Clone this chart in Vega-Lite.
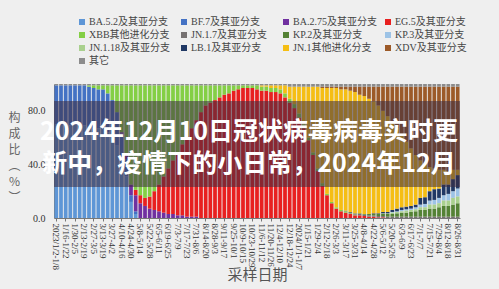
{
 "$schema": "https://vega.github.io/schema/vega-lite/v6.json",
 "width": 406, "height": 134,
 "autosize": {"type": "none"},
 "padding": {"left": 54, "top": 84, "right": 39, "bottom": 71},
 "background": "#efefef",
 "config": {"view": {"stroke": null}, "axis": {"labelOverlap": false}},
 "datasets": {
  "vars": [
   {"k":"a","name":"BA.5.2及其亚分支","o":1},
   {"k":"b","name":"BF.7及其亚分支","o":2},
   {"k":"c","name":"BA.2.75及其亚分支","o":3},
   {"k":"d","name":"EG.5及其亚分支","o":4},
   {"k":"e","name":"XBB其他进化分支","o":5},
   {"k":"f","name":"JN.1.7及其亚分支","o":6},
   {"k":"g","name":"KP.2及其亚分支","o":7},
   {"k":"h","name":"KP.3及其亚分支","o":9},
   {"k":"j","name":"JN.1.18及其亚分支","o":8},
   {"k":"k","name":"LB.1及其亚分支","o":10},
   {"k":"l","name":"JN.1其他进化分支","o":11},
   {"k":"m","name":"XDV及其亚分支","o":12},
   {"k":"n","name":"其它","o":13}
  ]
 },
 "data": {"values": [
  {"w":"2023/1/2-1/8","a":70,"b":29,"n":1},
  {"w":"1/9-1/15","a":71,"b":28,"n":1},
  {"w":"1/16-1/22","a":70,"b":29,"n":1},
  {"w":"1/23-1/29","a":69,"b":30,"n":1},
  {"w":"1/30-2/5","a":70,"b":29,"n":1},
  {"w":"2/6-2/12","a":68,"b":31,"n":1},
  {"w":"2/13-2/19","a":69,"b":30,"n":1},
  {"w":"2/20-2/26","a":68,"b":30,"e":1,"n":1},
  {"w":"2/27-3/5","a":67,"b":30,"e":2,"n":1},
  {"w":"3/6-3/12","a":67,"b":29,"e":3,"n":1},
  {"w":"3/13-3/19","a":66,"b":30,"e":3,"n":1},
  {"w":"3/20-3/26","a":64,"b":29,"e":6,"n":1},
  {"w":"3/27-4/2","a":61,"b":27,"e":11,"n":1},
  {"w":"4/3-4/9","a":54,"b":25,"e":20,"n":1},
  {"w":"4/10-4/16","a":45,"b":18,"c":1,"e":35,"n":1},
  {"w":"4/17-4/23","a":31,"b":13,"c":3,"e":52,"n":1},
  {"w":"4/24-4/30","a":12,"b":5,"c":8,"e":74,"n":1},
  {"w":"5/1-5/7","a":3,"b":2,"c":12,"d":4,"e":78,"n":1},
  {"w":"5/8-5/14","c":11,"d":6,"e":82,"n":1},
  {"w":"5/15-5/21","c":9,"d":6,"e":84,"n":1},
  {"w":"5/22-5/28","c":7,"d":9,"e":83,"n":1},
  {"w":"5/29-6/4","c":6,"d":14,"e":79,"n":1},
  {"w":"6/5-6/11","c":5,"d":20,"e":74,"n":1},
  {"w":"6/12-6/18","c":4,"d":27,"e":68,"n":1},
  {"w":"6/19-6/25","c":3,"d":34,"e":62,"n":1},
  {"w":"6/26-7/2","c":3,"d":40,"e":56,"n":1},
  {"w":"7/3-7/9","c":2,"d":47,"e":50,"n":1},
  {"w":"7/10-7/16","c":2,"d":53,"e":44,"n":1},
  {"w":"7/17-7/23","c":1,"d":60,"e":38,"n":1},
  {"w":"7/24-7/30","c":1,"d":66,"e":32,"n":1},
  {"w":"7/31-8/6","c":1,"d":72,"e":26,"n":1},
  {"w":"8/7-8/13","d":79,"e":20,"n":1},
  {"w":"8/14-8/20","d":84,"e":15,"n":1},
  {"w":"8/21-8/27","d":86,"e":13,"n":1},
  {"w":"8/28-9/3","d":88,"e":11,"n":1},
  {"w":"9/4-9/10","d":90,"e":9,"n":1},
  {"w":"9/11-9/17","d":92,"e":7,"n":1},
  {"w":"9/18-9/24","d":93,"e":6,"n":1},
  {"w":"9/25-10/1","d":95,"e":4,"n":1},
  {"w":"10/2-10/8","d":96,"e":3,"n":1},
  {"w":"10/9-10/15","d":97,"e":2,"n":1},
  {"w":"10/16-10/22","d":97,"e":2,"n":1},
  {"w":"10/23-10/29","d":97,"e":2,"n":1},
  {"w":"10/30-11/5","d":96,"e":3,"n":1},
  {"w":"11/6-11/12","d":95,"e":3,"l":1,"n":1},
  {"w":"11/13-11/19","d":95,"e":3,"l":1,"n":1},
  {"w":"11/20-11/26","d":94,"e":3,"l":2,"n":1},
  {"w":"11/27-12/3","d":94,"e":3,"l":2,"n":1},
  {"w":"12/4-12/10","d":93,"e":3,"l":3,"n":1},
  {"w":"12/11-12/17","d":90,"e":3,"l":6,"n":1},
  {"w":"12/18-12/24","d":86,"e":3,"l":9,"n":2},
  {"w":"12/25-12/31","d":82,"e":3,"l":13,"n":2},
  {"w":"2024/1/1-1/7","d":75,"e":3,"l":20,"n":2},
  {"w":"1/8-1/14","d":67,"e":3,"l":28,"n":2},
  {"w":"1/15-1/21","d":58,"e":2,"l":38,"n":2},
  {"w":"1/22-1/28","d":47,"e":2,"l":49,"n":2},
  {"w":"1/29-2/4","d":35,"e":2,"l":61,"n":2},
  {"w":"2/5-2/11","d":24,"e":2,"l":71,"m":1,"n":2},
  {"w":"2/12-2/18","d":17,"e":1,"l":79,"m":1,"n":2},
  {"w":"2/19-2/25","d":11,"e":1,"l":85,"m":1,"n":2},
  {"w":"2/26-3/3","d":7,"e":1,"l":89,"m":1,"n":2},
  {"w":"3/4-3/10","d":5,"e":1,"l":90,"m":2,"n":2},
  {"w":"3/11-3/17","d":4,"e":1,"f":0.5,"l":90.5,"m":2,"n":2},
  {"w":"3/18-3/24","d":3,"e":0.5,"f":1,"l":90.5,"m":3,"n":2},
  {"w":"3/25-3/31","d":2,"e":0.5,"f":1,"l":90.5,"m":4,"n":2},
  {"w":"4/1-4/7","d":2,"f":1,"g":0.5,"l":88.5,"m":6,"n":2},
  {"w":"4/8-4/14","d":1.5,"f":1,"g":0.5,"l":88,"m":7,"n":2},
  {"w":"4/15-4/21","d":1,"f":1,"g":1,"l":86,"m":9,"n":2},
  {"w":"4/22-4/28","d":1,"f":1,"g":1,"k":0.5,"l":83.5,"m":11,"n":2},
  {"w":"4/29-5/5","d":0.5,"f":1,"g":1.5,"k":0.5,"l":80.5,"m":14,"n":2},
  {"w":"5/6-5/12","d":0.5,"f":1,"g":1.5,"j":0.5,"k":1,"l":75.5,"m":18,"n":2},
  {"w":"5/13-5/19","f":1,"g":2,"j":0.5,"k":1,"l":71.5,"m":22,"n":2},
  {"w":"5/20-5/26","f":1,"g":2,"j":1,"h":0.5,"k":1.5,"l":66,"m":26,"n":2},
  {"w":"5/27-6/2","f":1,"g":2.5,"j":1,"h":0.5,"k":2,"l":60,"m":31,"n":2},
  {"w":"6/3-6/9","f":1,"g":3,"j":1,"h":1,"k":2,"l":54,"m":36,"n":2},
  {"w":"6/10-6/16","f":1,"g":3,"j":1.5,"h":1,"k":2,"l":48.5,"m":41,"n":2},
  {"w":"6/17-6/23","f":1,"g":3.5,"j":1.5,"h":1,"k":2,"l":43,"m":46,"n":2},
  {"w":"6/24-6/30","f":1,"g":4,"j":1.5,"h":1.5,"k":2,"l":37,"m":51,"n":2},
  {"w":"7/1-7/7","f":1,"g":5,"j":2,"h":2,"k":5,"l":28,"m":55,"n":2},
  {"w":"7/8-7/14","f":1,"g":5,"j":2,"h":2.5,"k":5,"l":24.5,"m":58,"n":2},
  {"w":"7/15-7/21","f":1,"g":6,"j":3,"h":3,"k":7,"l":18,"m":60,"n":2},
  {"w":"7/22-7/28","f":1,"g":6,"j":3,"h":3.5,"k":8,"l":15.5,"m":61,"n":2},
  {"w":"7/29-8/4","f":1,"g":7,"j":3,"h":4,"k":7,"l":14,"m":62,"n":2},
  {"w":"8/5-8/11","f":1,"g":8,"j":4,"h":4,"k":8,"l":11,"m":62,"n":2},
  {"w":"8/12-8/18","f":1,"g":8,"j":4,"h":5,"k":7,"l":10,"m":63,"n":2},
  {"w":"8/19-8/25","f":1,"g":9,"j":5,"h":5,"k":9,"l":7,"m":62,"n":2},
  {"w":"8/26-8/31","f":1,"g":10,"j":5,"h":6,"k":10,"l":4,"m":62,"n":2}
 ]},
 "layer": [
  {
   "transform": [
    {"fold": ["a","b","c","d","e","f","g","h","j","k","l","m","n"], "as": ["k","v"]},
    {"filter": "isValid(datum.v)"},
    {"lookup": "k", "from": {"data": {"name": "vars"}, "key": "k", "fields": ["name","o"]}}
   ],
   "mark": {"type": "bar"},
   "encoding": {
    "x": {"field": "w", "type": "nominal", "sort": null,
     "scale": {"paddingInner": 0.2, "paddingOuter": 0.1},
     "axis": {
      "values": ["2023/1/2-1/8","1/16-1/22","1/30-2/5","2/13-2/19","2/27-3/5","3/13-3/19","3/27-4/2","4/10-4/16","4/24-4/30","5/8-5/14","5/22-5/28","6/5-6/11","6/19-6/25","7/3-7/9","7/17-7/23","7/31-8/6","8/14-8/20","8/28-9/3","9/11-9/17","9/25-10/1","10/9-10/15","10/23-10/29","11/6-11/12","11/20-11/26","12/4-12/10","12/18-12/24","2024/1/1-1/7","1/15-1/21","1/29-2/4","2/12-2/18","2/26-3/3","3/11-3/17","3/25-3/31","4/8-4/14","4/22-4/28","5/6-5/12","5/20-5/26","6/3-6/9","6/17-6/23","7/1-7/7","7/15-7/21","7/29-8/4","8/12-8/18","8/26-8/31"],
      "labelAngle": 90, "labelFont": "Liberation Serif", "labelFontSize": 9, "labelColor": "#333",
      "labelOverlap": false,
      "tickSize": 3, "tickColor": "#777", "domainColor": "#777", "labelPadding": 2,
      "title": "采样日期", "titleFont": "Noto Sans CJK SC", "titleFontWeight": "normal",
      "titleFontSize": 15, "titleColor": "#555", "titleY": 56, "titleBaseline": "middle"
     }
    },
    "y": {"field": "v", "type": "quantitative", "stack": "zero",
     "scale": {"domain": [0, 100], "nice": false},
     "axis": {
      "values": [0,10,20,30,40,50,60,70,80,90,100],
      "format": ".1f",
      "labelOverlap": false,
      "labelFont": "Liberation Serif", "labelFontSize": 10, "labelColor": "#333",
      "ticks": false, "labelPadding": 9, "domainColor": "#777", "grid": false,
      "title": ["构","成","比","︵","%","︶"], "titleAngle": 0, "titleFont": "Noto Sans CJK SC",
      "titleFontWeight": "normal", "titleFontSize": 12, "titleColor": "#666", "titleLineHeight": 16,
      "titleX": -40, "titleY": 33, "titleAlign": "center", "titleBaseline": "middle"
     }
    },
    "color": {"field": "name", "type": "nominal",
     "scale": {
      "domain": ["BA.5.2及其亚分支","BF.7及其亚分支","BA.2.75及其亚分支","EG.5及其亚分支","XBB其他进化分支","JN.1.7及其亚分支","KP.2及其亚分支","KP.3及其亚分支","JN.1.18及其亚分支","LB.1及其亚分支","JN.1其他进化分支","XDV及其亚分支","其它"],
      "range": ["#5e96d6","#4472c4","#7030a0","#e82020","#84cf45","#767171","#548235","#9dc3e6","#a9d08e","#203864","#f5be14","#9c5a28","#8c8c8c"]
     },
     "legend": {
      "orient": "none", "legendX": 23, "legendY": -67, "columns": 4, "direction": "horizontal",
      "gridAlign": "all",
      "title": null, "symbolType": "square", "symbolSize": 36, "symbolStrokeWidth": 0,
      "labelFont": "Liberation Serif, Noto Sans CJK SC", "labelFontSize": 10, "labelColor": "#444",
      "rowPadding": 3, "columnPadding": 6, "labelOffset": 2, "labelLimit": 200
     }
    },
    "order": {"field": "o", "type": "quantitative", "sort": "ascending"}
   }
  },
  {
   "data": {"values": [{}]},
   "mark": {"type": "rect", "color": "#3c2b40", "opacity": 0.55},
   "encoding": {"y": {"datum": 87.3, "type": "quantitative"}, "y2": {"datum": 23.1}}
  },
  {
   "data": {"values": [{}]},
   "mark": {"type": "text", "text": "2024年12月10日冠状病毒病毒实时更", "font": "Noto Sans CJK SC", "fontWeight": "bold", "fontSize": 25, "color": "white", "baseline": "middle", "align": "center", "dx": -8},
   "encoding": {"y": {"datum": 64.2, "type": "quantitative"}}
  },
  {
   "data": {"values": [{}]},
   "mark": {"type": "text", "text": "新中，疫情下的小日常，2024年12月", "font": "Noto Sans CJK SC", "fontWeight": "bold", "fontSize": 25, "color": "white", "baseline": "middle", "align": "center", "dx": -8},
   "encoding": {"y": {"datum": 40.3, "type": "quantitative"}}
  }
 ]
}
